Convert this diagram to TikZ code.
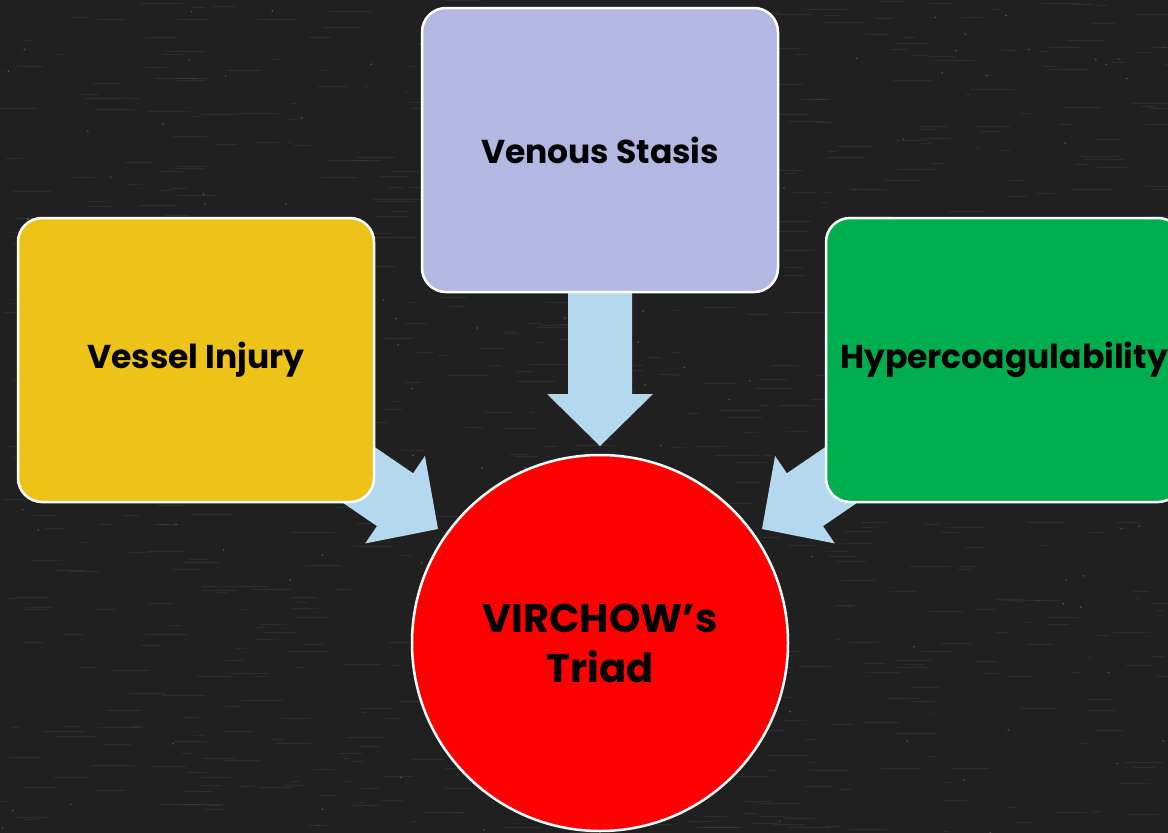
\documentclass[tikz,border=0pt]{standalone}
\usepackage{fontspec}
\setmainfont{Poppins}
\usetikzlibrary{calc}
\definecolor{board}{HTML}{202020}
\definecolor{yel}{HTML}{EDC31A}
\definecolor{lav}{HTML}{B3B7E1}
\definecolor{grn}{HTML}{00AE4F}
\definecolor{redc}{HTML}{FF0000}
\definecolor{arrowc}{HTML}{B4D9EE}
\begin{document}
\begin{tikzpicture}[x=1pt,y=-1pt,
  box/.style={draw=white, line width=2.5pt, rounded corners=24pt,
    minimum width=356pt, minimum height=284pt, inner sep=0pt, text=black,
    font=\fontsize{33}{40}\selectfont\bfseries},
  hub/.style={circle, draw=white, line width=2.5pt, fill=redc, minimum size=376pt,
    inner sep=0pt, text=black, align=center,
    font=\fontsize{40}{50}\selectfont\bfseries},
  blockarrow/.style={fill=arrowc}]
\useasboundingbox (0,0) rectangle (1168,833);
\clip (0,0) rectangle (1168,833);
\fill[board] (0,0) rectangle (1168,833);
% chalkboard texture
\pgfmathsetseed{7}
\foreach \i in {1,...,900}{
  \pgfmathsetmacro\xx{rnd*1168}
  \pgfmathsetmacro\yy{rnd*833}
  \pgfmathsetmacro\ll{4+rnd*40}
  \draw[white, opacity=0.06, line width=1pt] (\xx,\yy) -- ++(\ll,0);
}
\foreach \i in {1,...,150}{
  \pgfmathsetmacro\xx{rnd*1168}
  \pgfmathsetmacro\yy{rnd*833}
  \fill[white, opacity=0.25] (\xx,\yy) circle (0.9pt);
}
% arrows (drawn first, boxes cover the shafts)
\coordinate (t1) at (438,529); \coordinate (s1) at (271,415);
\coordinate (t2) at (762,529); \coordinate (s2) at (929,415);
\coordinate (t3) at (600,446); \coordinate (s3) at (600,250);
\foreach \k in {1,2,3}{
  \coordinate (h) at ($(t\k)!52pt!(s\k)$);
  \fill[blockarrow] (t\k) -- ($(h)!53pt!90:(t\k)$) -- ($(h)!32pt!90:(t\k)$)
    -- ($(s\k)!32pt!90:(t\k)$) -- ($(s\k)!32pt!-90:(t\k)$)
    -- ($(h)!32pt!-90:(t\k)$) -- ($(h)!53pt!-90:(t\k)$) -- cycle;
}
\node[box, fill=yel] (vessel) at (196,360) {Vessel Injury};
\node[box, fill=lav] (venous) at (600,150) {Venous Stasis};
\node[box, fill=grn] (hyper) at (1004,360) {Hypercoagulability};
\node[hub] (triad) at (600,643) {VIRCHOW’s\\Triad};
\end{tikzpicture}
\end{document}
